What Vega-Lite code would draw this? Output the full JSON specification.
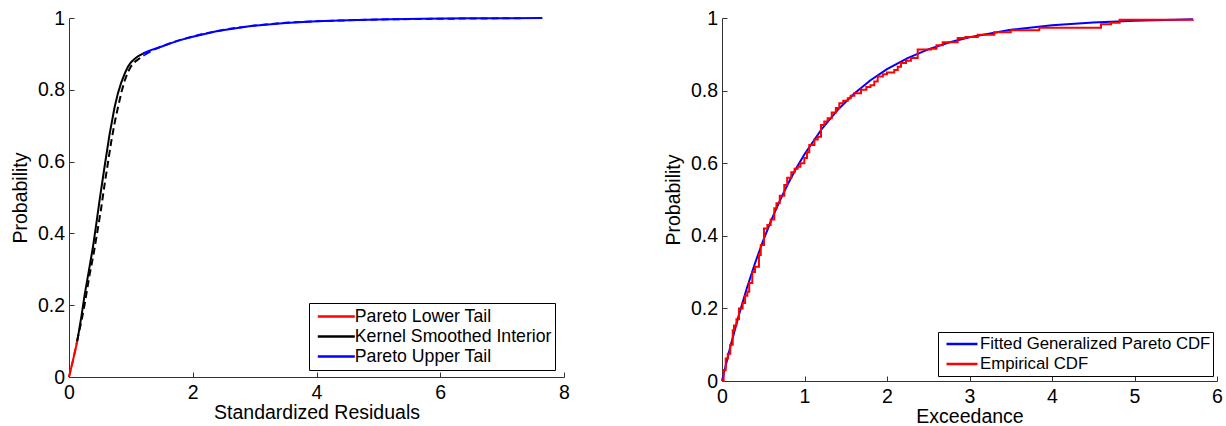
{
  "$schema": "https://vega.github.io/schema/vega-lite/v6.json",
  "padding": {"left": 10, "top": 8, "right": 0, "bottom": 0},
  "bounds": "flush",
  "spacing": 158,
  "background": "white",
  "resolve": {"scale": {"color": "independent"}, "legend": {"color": "independent"}},
  "config": {
    "view": {"stroke": null},
    "font": "Liberation Sans",
    "axis": {
      "grid": false,
      "domainColor": "#333333",
      "tickColor": "#333333",
      "tickSize": -5,
      "labelFlush": false,
      "labelFont": "Liberation Sans",
      "labelFontSize": 19.5,
      "labelColor": "black",
      "titleFont": "Liberation Sans",
      "titleFontSize": 19.5,
      "titleFontWeight": "normal",
      "titleColor": "black"
    },
    "axisX": {"labelPadding": 11.5, "titlePadding": 1.5},
    "axisY": {"labelPadding": 9.5, "titlePadding": 7},
    "legend": {
      "labelFont": "Liberation Sans",
      "labelColor": "black",
      "strokeColor": "black",
      "fillColor": "white",
      "cornerRadius": 0,
      "symbolType": "stroke",
      "symbolStrokeWidth": 2.5,
      "labelLimit": 400,
      "padding": 2,
      "rowPadding": 0,
      "title": null
    }
  },
  "datasets": {
    "leftSolid": [
      {"x": 0, "y": 0, "seg": "Pareto Lower Tail"},
      {"x": 0.05, "y": 0.036, "seg": "Pareto Lower Tail"},
      {"x": 0.1, "y": 0.073, "seg": "Pareto Lower Tail"},
      {"x": 0.134, "y": 0.1, "seg": "Pareto Lower Tail"},
      {"x": 0.134, "y": 0.1, "seg": "Kernel Smoothed Interior"},
      {"x": 0.2, "y": 0.168, "seg": "Kernel Smoothed Interior"},
      {"x": 0.252, "y": 0.228, "seg": "Kernel Smoothed Interior"},
      {"x": 0.32, "y": 0.295, "seg": "Kernel Smoothed Interior"},
      {"x": 0.387, "y": 0.362, "seg": "Kernel Smoothed Interior"},
      {"x": 0.44, "y": 0.425, "seg": "Kernel Smoothed Interior"},
      {"x": 0.494, "y": 0.492, "seg": "Kernel Smoothed Interior"},
      {"x": 0.574, "y": 0.585, "seg": "Kernel Smoothed Interior"},
      {"x": 0.655, "y": 0.675, "seg": "Kernel Smoothed Interior"},
      {"x": 0.735, "y": 0.75, "seg": "Kernel Smoothed Interior"},
      {"x": 0.79, "y": 0.79, "seg": "Kernel Smoothed Interior"},
      {"x": 0.844, "y": 0.82, "seg": "Kernel Smoothed Interior"},
      {"x": 0.9, "y": 0.845, "seg": "Kernel Smoothed Interior"},
      {"x": 0.952, "y": 0.864, "seg": "Kernel Smoothed Interior"},
      {"x": 1.0, "y": 0.876, "seg": "Kernel Smoothed Interior"},
      {"x": 1.058, "y": 0.886, "seg": "Kernel Smoothed Interior"},
      {"x": 1.12, "y": 0.894, "seg": "Kernel Smoothed Interior"},
      {"x": 1.194, "y": 0.901, "seg": "Kernel Smoothed Interior"},
      {"x": 1.194, "y": 0.901, "seg": "Pareto Upper Tail"},
      {"x": 1.3, "y": 0.909, "seg": "Pareto Upper Tail"},
      {"x": 1.489, "y": 0.92, "seg": "Pareto Upper Tail"},
      {"x": 1.65, "y": 0.93, "seg": "Pareto Upper Tail"},
      {"x": 1.81, "y": 0.939, "seg": "Pareto Upper Tail"},
      {"x": 2.0, "y": 0.948, "seg": "Pareto Upper Tail"},
      {"x": 2.4, "y": 0.964, "seg": "Pareto Upper Tail"},
      {"x": 2.94, "y": 0.978, "seg": "Pareto Upper Tail"},
      {"x": 3.5, "y": 0.986, "seg": "Pareto Upper Tail"},
      {"x": 4.0, "y": 0.991, "seg": "Pareto Upper Tail"},
      {"x": 4.5, "y": 0.994, "seg": "Pareto Upper Tail"},
      {"x": 5.0, "y": 0.996, "seg": "Pareto Upper Tail"},
      {"x": 5.7, "y": 0.998, "seg": "Pareto Upper Tail"},
      {"x": 6.5, "y": 0.999, "seg": "Pareto Upper Tail"},
      {"x": 7.65, "y": 1.0, "seg": "Pareto Upper Tail"}
    ],
    "leftDashed": [
      {"x": 0, "y": 0, "seg": "Pareto Lower Tail"},
      {"x": 0.07, "y": 0.05, "seg": "Pareto Lower Tail"},
      {"x": 0.13, "y": 0.1, "seg": "Pareto Lower Tail"},
      {"x": 0.13, "y": 0.1, "seg": "Kernel Smoothed Interior"},
      {"x": 0.2, "y": 0.155, "seg": "Kernel Smoothed Interior"},
      {"x": 0.25, "y": 0.2, "seg": "Kernel Smoothed Interior"},
      {"x": 0.333, "y": 0.285, "seg": "Kernel Smoothed Interior"},
      {"x": 0.4, "y": 0.345, "seg": "Kernel Smoothed Interior"},
      {"x": 0.468, "y": 0.415, "seg": "Kernel Smoothed Interior"},
      {"x": 0.52, "y": 0.47, "seg": "Kernel Smoothed Interior"},
      {"x": 0.574, "y": 0.535, "seg": "Kernel Smoothed Interior"},
      {"x": 0.682, "y": 0.655, "seg": "Kernel Smoothed Interior"},
      {"x": 0.74, "y": 0.71, "seg": "Kernel Smoothed Interior"},
      {"x": 0.79, "y": 0.75, "seg": "Kernel Smoothed Interior"},
      {"x": 0.85, "y": 0.795, "seg": "Kernel Smoothed Interior"},
      {"x": 0.897, "y": 0.824, "seg": "Kernel Smoothed Interior"},
      {"x": 0.95, "y": 0.849, "seg": "Kernel Smoothed Interior"},
      {"x": 1.005, "y": 0.866, "seg": "Kernel Smoothed Interior"},
      {"x": 1.08, "y": 0.88, "seg": "Kernel Smoothed Interior"},
      {"x": 1.166, "y": 0.891, "seg": "Kernel Smoothed Interior"},
      {"x": 1.22, "y": 0.897, "seg": "Kernel Smoothed Interior"},
      {"x": 1.22, "y": 0.897, "seg": "Pareto Upper Tail"},
      {"x": 1.35, "y": 0.91, "seg": "Pareto Upper Tail"},
      {"x": 1.5, "y": 0.921, "seg": "Pareto Upper Tail"},
      {"x": 1.7, "y": 0.934, "seg": "Pareto Upper Tail"},
      {"x": 1.9, "y": 0.944, "seg": "Pareto Upper Tail"},
      {"x": 2.2, "y": 0.957, "seg": "Pareto Upper Tail"},
      {"x": 2.6, "y": 0.97, "seg": "Pareto Upper Tail"},
      {"x": 3.0, "y": 0.979, "seg": "Pareto Upper Tail"},
      {"x": 3.5, "y": 0.987, "seg": "Pareto Upper Tail"},
      {"x": 4.0, "y": 0.991, "seg": "Pareto Upper Tail"},
      {"x": 5.0, "y": 0.996, "seg": "Pareto Upper Tail"},
      {"x": 6.0, "y": 0.998, "seg": "Pareto Upper Tail"},
      {"x": 7.35, "y": 0.9995, "seg": "Pareto Upper Tail"}
    ],
    "gpd": [
      {"x": 0, "y": 0, "s": "Fitted Generalized Pareto CDF"},
      {"x": 0.1, "y": 0.0934, "s": "Fitted Generalized Pareto CDF"},
      {"x": 0.2, "y": 0.178, "s": "Fitted Generalized Pareto CDF"},
      {"x": 0.3, "y": 0.2547, "s": "Fitted Generalized Pareto CDF"},
      {"x": 0.4, "y": 0.3243, "s": "Fitted Generalized Pareto CDF"},
      {"x": 0.5, "y": 0.3874, "s": "Fitted Generalized Pareto CDF"},
      {"x": 0.6, "y": 0.4446, "s": "Fitted Generalized Pareto CDF"},
      {"x": 0.7, "y": 0.4964, "s": "Fitted Generalized Pareto CDF"},
      {"x": 0.8, "y": 0.5434, "s": "Fitted Generalized Pareto CDF"},
      {"x": 0.9, "y": 0.586, "s": "Fitted Generalized Pareto CDF"},
      {"x": 1.0, "y": 0.6247, "s": "Fitted Generalized Pareto CDF"},
      {"x": 1.2, "y": 0.6915, "s": "Fitted Generalized Pareto CDF"},
      {"x": 1.4, "y": 0.7464, "s": "Fitted Generalized Pareto CDF"},
      {"x": 1.6, "y": 0.7915, "s": "Fitted Generalized Pareto CDF"},
      {"x": 1.8, "y": 0.8286, "s": "Fitted Generalized Pareto CDF"},
      {"x": 2.0, "y": 0.8591, "s": "Fitted Generalized Pareto CDF"},
      {"x": 2.25, "y": 0.8897, "s": "Fitted Generalized Pareto CDF"},
      {"x": 2.5, "y": 0.9137, "s": "Fitted Generalized Pareto CDF"},
      {"x": 2.75, "y": 0.9325, "s": "Fitted Generalized Pareto CDF"},
      {"x": 3.0, "y": 0.9471, "s": "Fitted Generalized Pareto CDF"},
      {"x": 3.5, "y": 0.9676, "s": "Fitted Generalized Pareto CDF"},
      {"x": 4.0, "y": 0.9802, "s": "Fitted Generalized Pareto CDF"},
      {"x": 4.5, "y": 0.9878, "s": "Fitted Generalized Pareto CDF"},
      {"x": 5.0, "y": 0.9926, "s": "Fitted Generalized Pareto CDF"},
      {"x": 5.5, "y": 0.9954, "s": "Fitted Generalized Pareto CDF"},
      {"x": 5.71, "y": 0.9963, "s": "Fitted Generalized Pareto CDF"}
    ],
    "ecdf": [
      {"x": 0, "y": 0, "s": "Empirical CDF"},
      {"x": 0.02, "y": 0.03, "s": "Empirical CDF"},
      {"x": 0.045, "y": 0.062, "s": "Empirical CDF"},
      {"x": 0.07, "y": 0.075, "s": "Empirical CDF"},
      {"x": 0.1, "y": 0.1, "s": "Empirical CDF"},
      {"x": 0.13, "y": 0.14, "s": "Empirical CDF"},
      {"x": 0.145, "y": 0.153, "s": "Empirical CDF"},
      {"x": 0.175, "y": 0.17, "s": "Empirical CDF"},
      {"x": 0.206, "y": 0.2, "s": "Empirical CDF"},
      {"x": 0.25, "y": 0.215, "s": "Empirical CDF"},
      {"x": 0.28, "y": 0.235, "s": "Empirical CDF"},
      {"x": 0.307, "y": 0.246, "s": "Empirical CDF"},
      {"x": 0.33, "y": 0.27, "s": "Empirical CDF"},
      {"x": 0.367, "y": 0.3, "s": "Empirical CDF"},
      {"x": 0.4, "y": 0.315, "s": "Empirical CDF"},
      {"x": 0.448, "y": 0.347, "s": "Empirical CDF"},
      {"x": 0.47, "y": 0.375, "s": "Empirical CDF"},
      {"x": 0.509, "y": 0.42, "s": "Empirical CDF"},
      {"x": 0.55, "y": 0.43, "s": "Empirical CDF"},
      {"x": 0.59, "y": 0.445, "s": "Empirical CDF"},
      {"x": 0.634, "y": 0.476, "s": "Empirical CDF"},
      {"x": 0.66, "y": 0.49, "s": "Empirical CDF"},
      {"x": 0.7, "y": 0.51, "s": "Empirical CDF"},
      {"x": 0.755, "y": 0.54, "s": "Empirical CDF"},
      {"x": 0.79, "y": 0.56, "s": "Empirical CDF"},
      {"x": 0.84, "y": 0.575, "s": "Empirical CDF"},
      {"x": 0.88, "y": 0.585, "s": "Empirical CDF"},
      {"x": 0.917, "y": 0.59, "s": "Empirical CDF"},
      {"x": 0.95, "y": 0.6, "s": "Empirical CDF"},
      {"x": 0.998, "y": 0.614, "s": "Empirical CDF"},
      {"x": 1.03, "y": 0.63, "s": "Empirical CDF"},
      {"x": 1.058, "y": 0.65, "s": "Empirical CDF"},
      {"x": 1.12, "y": 0.665, "s": "Empirical CDF"},
      {"x": 1.16, "y": 0.673, "s": "Empirical CDF"},
      {"x": 1.2, "y": 0.705, "s": "Empirical CDF"},
      {"x": 1.24, "y": 0.715, "s": "Empirical CDF"},
      {"x": 1.28, "y": 0.724, "s": "Empirical CDF"},
      {"x": 1.33, "y": 0.74, "s": "Empirical CDF"},
      {"x": 1.38, "y": 0.752, "s": "Empirical CDF"},
      {"x": 1.422, "y": 0.765, "s": "Empirical CDF"},
      {"x": 1.47, "y": 0.772, "s": "Empirical CDF"},
      {"x": 1.524, "y": 0.779, "s": "Empirical CDF"},
      {"x": 1.56, "y": 0.786, "s": "Empirical CDF"},
      {"x": 1.604, "y": 0.793, "s": "Empirical CDF"},
      {"x": 1.685, "y": 0.802, "s": "Empirical CDF"},
      {"x": 1.75, "y": 0.81, "s": "Empirical CDF"},
      {"x": 1.8, "y": 0.815, "s": "Empirical CDF"},
      {"x": 1.846, "y": 0.825, "s": "Empirical CDF"},
      {"x": 1.887, "y": 0.839, "s": "Empirical CDF"},
      {"x": 1.95, "y": 0.845, "s": "Empirical CDF"},
      {"x": 2.0, "y": 0.85, "s": "Empirical CDF"},
      {"x": 2.088, "y": 0.857, "s": "Empirical CDF"},
      {"x": 2.13, "y": 0.866, "s": "Empirical CDF"},
      {"x": 2.17, "y": 0.876, "s": "Empirical CDF"},
      {"x": 2.23, "y": 0.882, "s": "Empirical CDF"},
      {"x": 2.29, "y": 0.89, "s": "Empirical CDF"},
      {"x": 2.372, "y": 0.913, "s": "Empirical CDF"},
      {"x": 2.533, "y": 0.915, "s": "Empirical CDF"},
      {"x": 2.6, "y": 0.925, "s": "Empirical CDF"},
      {"x": 2.675, "y": 0.933, "s": "Empirical CDF"},
      {"x": 2.857, "y": 0.945, "s": "Empirical CDF"},
      {"x": 2.95, "y": 0.948, "s": "Empirical CDF"},
      {"x": 3.1, "y": 0.954, "s": "Empirical CDF"},
      {"x": 3.3, "y": 0.961, "s": "Empirical CDF"},
      {"x": 3.5, "y": 0.966, "s": "Empirical CDF"},
      {"x": 3.846, "y": 0.973, "s": "Empirical CDF"},
      {"x": 4.594, "y": 0.983, "s": "Empirical CDF"},
      {"x": 4.715, "y": 0.987, "s": "Empirical CDF"},
      {"x": 4.82, "y": 0.995, "s": "Empirical CDF"},
      {"x": 5.71, "y": 0.996, "s": "Empirical CDF"}
    ]
  },
  "hconcat": [
    {
      "width": 495,
      "height": 359,
      "layer": [
        {
          "data": {"name": "leftDashed"},
          "mark": {"type": "line", "strokeWidth": 2, "strokeDash": [7, 4]},
          "encoding": {
            "x": {"field": "x", "type": "quantitative"},
            "y": {"field": "y", "type": "quantitative"},
            "stroke": {
              "field": "seg",
              "type": "nominal",
              "legend": null,
              "scale": {
                "domain": ["Pareto Lower Tail", "Kernel Smoothed Interior", "Pareto Upper Tail"],
                "range": ["#ff0000", "#000000", "#0000ff"]
              }
            }
          }
        },
        {
          "data": {"name": "leftSolid"},
          "mark": {"type": "line", "strokeWidth": 2},
          "encoding": {
            "x": {"field": "x", "type": "quantitative"},
            "y": {"field": "y", "type": "quantitative"},
            "color": {
              "field": "seg",
              "type": "nominal",
              "scale": {
                "domain": ["Pareto Lower Tail", "Kernel Smoothed Interior", "Pareto Upper Tail"],
                "range": ["#ff0000", "#000000", "#0000ff"]
              },
              "legend": {
                "orient": "none",
                "legendX": 240,
                "legendY": 285,
                "padding": 3.5,
                "clipHeight": 20,
                "symbolSize": 1369,
                "symbolOffset": 3.8,
                "labelOffset": -1.5,
                "labelFontSize": 17.7
              }
            }
          }
        }
      ],
      "encoding": {
        "x": {
          "field": "x",
          "type": "quantitative",
          "title": "Standardized Residuals",
          "scale": {"domain": [0, 8], "nice": false},
          "axis": {"values": [0, 2, 4, 6, 8], "format": "d"}
        },
        "y": {
          "field": "y",
          "type": "quantitative",
          "title": "Probability",
          "scale": {"domain": [0, 1], "nice": false},
          "axis": {"values": [0, 0.2, 0.4, 0.6, 0.8, 1], "format": "~g"}
        }
      }
    },
    {
      "width": 495,
      "height": 363,
      "layer": [
        {
          "data": {"name": "gpd"},
          "mark": {"type": "line", "strokeWidth": 2}
        },
        {
          "data": {"name": "ecdf"},
          "mark": {"type": "line", "strokeWidth": 2, "interpolate": "step-after"}
        }
      ],
      "encoding": {
        "x": {
          "field": "x",
          "type": "quantitative",
          "title": "Exceedance",
          "scale": {"domain": [0, 6], "nice": false},
          "axis": {"values": [0, 1, 2, 3, 4, 5, 6], "format": "d"}
        },
        "y": {
          "field": "y",
          "type": "quantitative",
          "title": "Probability",
          "scale": {"domain": [0, 1], "nice": false},
          "axis": {"values": [0, 0.2, 0.4, 0.6, 0.8, 1], "format": "~g"}
        },
        "color": {
          "field": "s",
          "type": "nominal",
          "scale": {
            "domain": ["Fitted Generalized Pareto CDF", "Empirical CDF"],
            "range": ["#0000ff", "#ff0000"]
          },
          "legend": {
            "orient": "none",
            "legendX": 216,
            "legendY": 314,
            "clipHeight": 20,
            "symbolSize": 961,
            "symbolOffset": 5,
            "labelOffset": 1,
            "labelFontSize": 16.8
          }
        }
      }
    }
  ]
}
